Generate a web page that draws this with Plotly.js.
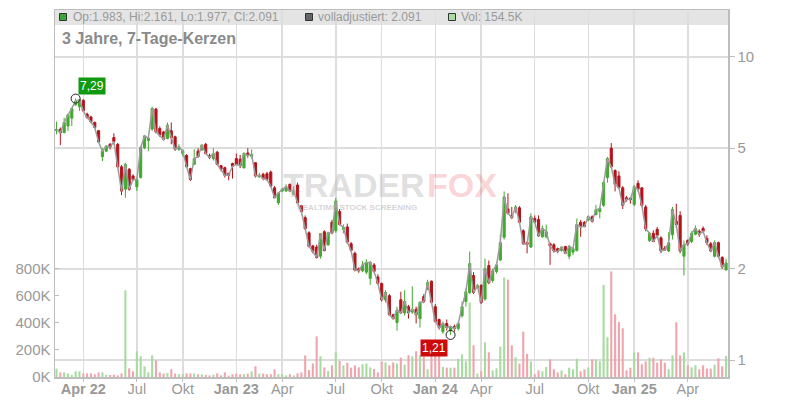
<!DOCTYPE html>
<html><head><meta charset="utf-8">
<script src="https://cdn.plot.ly/plotly-3.0.1.min.js"></script>
<style>html,body{margin:0;padding:0;background:#fff}#chart{width:800px;height:400px}</style>
</head><body><div id="chart"></div>
<script>
const dates = [
'2022-02-07','2022-02-14','2022-02-21','2022-02-28','2022-03-07','2022-03-14','2022-03-21','2022-03-28','2022-04-04','2022-04-11',
'2022-04-18','2022-04-25','2022-05-02','2022-05-09','2022-05-16','2022-05-23','2022-05-30','2022-06-06','2022-06-13','2022-06-20',
'2022-06-27','2022-07-04','2022-07-11','2022-07-18','2022-07-25','2022-08-01','2022-08-08','2022-08-15','2022-08-22','2022-08-29',
'2022-09-05','2022-09-12','2022-09-19','2022-09-26','2022-10-03','2022-10-10','2022-10-17','2022-10-24','2022-10-31','2022-11-07',
'2022-11-14','2022-11-21','2022-11-28','2022-12-05','2022-12-12','2022-12-19','2022-12-26',
'2023-01-02','2023-01-09','2023-01-16','2023-01-23','2023-01-30','2023-02-06','2023-02-13','2023-02-20','2023-02-27','2023-03-06',
'2023-03-13','2023-03-20','2023-03-27','2023-04-03','2023-04-10','2023-04-17','2023-04-24','2023-05-01','2023-05-08','2023-05-15',
'2023-05-22','2023-05-29','2023-06-05','2023-06-12','2023-06-19','2023-06-26','2023-07-03','2023-07-10','2023-07-17','2023-07-24',
'2023-07-31','2023-08-07','2023-08-14','2023-08-21','2023-08-28','2023-09-04','2023-09-11','2023-09-18','2023-09-25','2023-10-02',
'2023-10-09','2023-10-16','2023-10-23','2023-10-30','2023-11-06','2023-11-13','2023-11-20','2023-11-27','2023-12-04','2023-12-11',
'2023-12-18','2023-12-25',
'2024-01-01','2024-01-08','2024-01-15','2024-01-22','2024-01-29','2024-02-05','2024-02-12','2024-02-19','2024-02-26','2024-03-04',
'2024-03-11','2024-03-18','2024-03-25','2024-04-01','2024-04-08','2024-04-15','2024-04-22','2024-04-29','2024-05-06','2024-05-13',
'2024-05-20','2024-05-27','2024-06-03','2024-06-10','2024-06-17','2024-06-24','2024-07-01','2024-07-08','2024-07-15','2024-07-22',
'2024-07-29','2024-08-05','2024-08-12','2024-08-19','2024-08-26','2024-09-02','2024-09-09','2024-09-16','2024-09-23','2024-09-30',
'2024-10-07','2024-10-14','2024-10-21','2024-10-28','2024-11-04','2024-11-11','2024-11-18','2024-11-25','2024-12-02','2024-12-09',
'2024-12-16','2024-12-23','2024-12-30',
'2025-01-06','2025-01-13','2025-01-20','2025-01-27','2025-02-03','2025-02-10','2025-02-17','2025-02-24','2025-03-03','2025-03-10',
'2025-03-17','2025-03-24','2025-03-31','2025-04-07','2025-04-14','2025-04-21','2025-04-28','2025-05-05','2025-05-12','2025-05-19',
'2025-05-26','2025-06-02','2025-06-09','2025-06-16'];

const open = [
5.72,5.77,5.63,5.92,6.28,6.95,6.85,7.20,6.48,6.34,
6.08,5.71,4.69,4.89,5.15,5.42,5.15,4.34,3.66,4.26,
4.05,3.73,4.00,5.02,5.30,5.78,6.73,5.81,5.66,5.38,
5.71,5.45,4.96,4.80,4.73,4.28,4.42,4.89,4.94,5.15,
4.73,4.62,4.85,4.38,4.31,4.13,4.45,4.62,4.60,4.31,
4.82,4.70,4.48,4.02,4.10,4.12,4.17,3.70,3.30,3.61,
3.61,3.80,3.52,3.78,3.23,2.95,2.63,2.38,2.36,2.20,
2.65,2.40,2.85,2.67,3.09,2.70,2.75,2.42,2.25,2.00,
1.97,1.95,1.86,2.06,1.88,1.79,1.58,1.63,1.41,1.33,
1.58,1.43,1.50,1.44,1.47,1.37,1.62,1.71,1.82,1.50,
1.36,1.24,1.32,1.25,1.29,1.27,1.40,1.56,1.67,1.90,
1.73,1.76,1.59,2.05,1.83,1.96,2.14,2.54,3.15,3.00,
3.12,3.18,2.67,2.44,2.36,2.93,2.91,2.55,2.55,2.42,
2.40,2.33,2.30,2.37,2.20,2.27,2.30,2.85,2.85,2.90,
2.97,3.02,3.09,3.24,4.00,5.00,4.22,4.05,3.70,3.43,
3.42,3.26,3.83,3.70,3.20,2.48,2.62,2.70,2.53,2.34,
2.29,2.59,2.87,3.00,2.20,2.48,2.46,2.60,2.66,2.72,
2.52,2.42,2.20,2.44,2.18,1.983];

const high = [
6.12,5.85,6.30,6.50,6.80,7.29,7.27,7.25,6.55,6.40,
6.12,5.75,5.00,5.12,5.20,5.60,5.20,4.40,4.48,4.30,
4.10,4.00,5.08,5.52,5.45,6.85,6.80,5.90,5.70,6.08,
6.08,5.50,5.15,4.95,4.78,4.31,4.96,5.00,5.15,5.20,
4.80,5.00,4.90,4.40,4.35,4.15,4.48,4.80,4.75,4.85,
5.00,4.96,4.50,4.15,4.15,4.18,4.22,3.75,3.58,3.70,
3.80,3.82,3.75,3.85,3.25,3.00,2.66,2.40,2.40,2.62,
2.68,2.65,2.90,3.43,3.15,2.80,2.82,2.45,2.28,2.02,
2.12,2.15,2.12,2.09,1.92,1.80,1.70,1.65,1.42,1.50,
1.68,1.70,1.52,1.75,1.50,1.56,1.65,1.84,1.83,1.53,
1.37,1.34,1.36,1.30,1.31,1.33,1.56,1.72,2.28,1.95,
1.78,1.78,2.16,2.13,2.00,2.10,2.60,3.60,3.55,3.20,
3.25,3.22,2.70,2.46,3.05,3.00,3.00,2.78,2.80,2.44,
2.43,2.35,2.38,2.38,2.40,2.35,2.93,2.90,2.87,3.00,
3.00,3.25,3.20,3.90,4.68,5.20,4.26,4.20,3.75,3.48,
3.44,3.78,3.92,3.72,3.25,2.65,2.68,2.75,2.56,2.38,
2.64,3.20,3.28,3.10,2.48,2.50,2.66,2.78,2.70,2.76,
2.58,2.45,2.48,2.46,2.20,2.161];

const low = [
5.56,5.12,5.60,5.70,5.92,6.90,6.64,6.60,6.25,6.05,
5.80,5.20,4.53,4.85,4.95,5.15,4.30,3.50,3.43,3.62,
3.90,3.61,3.97,4.96,4.89,5.70,5.60,5.45,5.30,5.35,
5.15,4.90,4.90,4.70,4.30,3.90,4.40,4.65,4.90,4.78,
4.60,4.55,4.40,4.20,4.00,3.92,3.97,4.40,4.30,4.28,
4.65,4.62,4.00,4.00,3.92,3.90,3.72,3.42,3.25,3.58,
3.60,3.58,3.50,3.28,3.05,2.70,2.35,2.25,2.16,2.16,
2.28,2.38,2.60,2.63,2.78,2.62,2.42,2.28,1.96,1.94,
1.95,1.92,1.77,1.94,1.77,1.56,1.55,1.40,1.36,1.25,
1.42,1.40,1.37,1.42,1.32,1.28,1.54,1.70,1.54,1.33,
1.26,1.22,1.25,1.21,1.24,1.25,1.38,1.50,1.65,1.65,
1.72,1.53,1.57,1.78,1.80,1.93,2.12,2.50,3.02,2.92,
3.05,2.83,2.40,2.25,2.34,2.83,2.55,2.53,2.52,2.06,
2.26,2.25,2.28,2.24,2.15,2.22,2.28,2.55,2.74,2.87,
2.84,3.00,2.93,3.20,3.85,4.30,3.60,3.68,3.15,3.33,
3.28,3.22,3.60,3.20,2.66,2.45,2.45,2.55,2.25,2.29,
2.27,2.50,2.73,2.25,1.90,2.38,2.43,2.58,2.55,2.62,
2.40,2.27,2.18,2.17,2.00,1.977];

const close = [
5.77,5.62,6.08,6.44,6.76,7.15,7.22,6.64,6.31,6.11,
5.85,5.24,4.89,5.08,5.04,5.26,4.34,3.61,4.42,3.66,
3.94,3.94,5.02,5.49,5.40,6.76,5.66,5.52,5.35,5.96,
5.42,4.96,5.05,4.90,4.34,3.94,4.62,4.69,5.12,4.80,
4.66,4.80,4.42,4.26,4.07,4.07,4.36,4.42,4.38,4.80,
4.73,4.77,4.05,4.07,3.97,3.94,3.75,3.43,3.56,3.66,
3.73,3.61,3.63,3.30,3.09,2.71,2.37,2.28,2.18,2.61,
2.30,2.63,2.63,3.35,2.80,2.74,2.45,2.30,1.98,1.97,
2.06,2.10,2.10,1.96,1.79,1.58,1.67,1.41,1.37,1.46,
1.43,1.56,1.43,1.47,1.41,1.55,1.56,1.80,1.55,1.34,
1.28,1.32,1.28,1.29,1.27,1.32,1.50,1.68,2.08,1.67,
1.76,1.55,2.00,1.80,1.97,2.06,2.44,3.45,3.05,2.95,
3.20,2.85,2.42,2.41,2.97,2.85,2.57,2.72,2.65,2.38,
2.29,2.28,2.36,2.25,2.37,2.33,2.80,2.75,2.76,2.97,
2.87,3.13,3.16,3.85,4.62,4.34,3.80,3.70,3.24,3.39,
3.38,3.73,3.66,3.24,2.71,2.62,2.46,2.58,2.29,2.31,
2.44,3.14,2.80,2.29,2.40,2.42,2.62,2.72,2.60,2.66,
2.44,2.29,2.44,2.20,2.03,2.091];

// volume in thousands of shares
const volumeK = [
62,34,34,27,15,42,42,27,27,27,
20,34,34,17,15,17,12,27,640,64,
42,190,153,79,34,160,123,34,25,30,
57,25,20,22,27,27,27,20,20,15,
12,17,27,12,34,10,20,25,20,20,
25,42,79,25,25,20,20,57,20,20,
12,20,12,27,34,160,52,100,300,153,
71,44,86,182,118,86,106,69,86,71,
94,100,71,59,34,116,108,86,108,100,
143,91,160,153,190,160,150,57,200,170,
190,75,69,69,69,135,167,116,550,234,
25,42,256,182,49,64,224,734,719,234,
145,99,335,170,116,20,49,42,74,130,
57,34,49,20,69,57,135,42,57,71,
130,130,116,680,293,780,463,406,360,49,
69,182,182,94,116,143,143,106,130,106,
57,160,404,160,182,86,71,86,57,86,
62,62,91,138,79,154.5];

const tickDates = ['2022-03-28','2022-07-04','2022-09-26','2023-01-02','2023-03-27','2023-07-03','2023-09-25',
                   '2024-01-01','2024-03-25','2024-07-01','2024-10-07','2024-12-30','2025-04-07'];
const tickLabels = ['<b>Apr 22</b>','Jul','Okt','<b>Jan 23</b>','Apr','Jul','Okt','<b>Jan 24</b>','Apr','Jul','Okt','<b>Jan 25</b>','Apr'];
const volTicks = [0,200,400,600,800];
const volTickLabels = ['0K','200K','400K','600K','800K'];
const priceTicks = [1,2,5,10];
const priceTickLabels = ['1','2','5','10'];
const chartTitle = '3 Jahre, 7-Tage-Kerzen';
const adjustedClose = 2.091;
const watermark = ['TRADER','FOX','REALTIME STOCK SCREENING'];

// ---- styling / layout ----
const UP = '#42a830', DOWN = '#b2141c', VUP = '#a8dba0', VDOWN = '#f0a5ae';
const W = 800, H = 400, ML = 55, MR = 72, MT = 10, MB = 23;
const PW = W - ML - MR, PH = H - MT - MB;
const px = v => (v - ML) / PW;
const py = v => (H - MB - v) / PH;
const n = close.length;
const volColors = close.map((c, i) => c >= open[i] ? VUP : VDOWN);

let iMax = 0, iMin = 0;
for (let i = 0; i < n; i++) { if (high[i] > high[iMax]) iMax = i; if (low[i] < low[iMin]) iMin = i; }
const fmtDE = v => v.toFixed(2).replace('.', ',');

const traces = [
  { type:'bar', x:dates, y:volumeK, yaxis:'y', marker:{color:volColors, line:{width:0}}, hoverinfo:'skip' },
  { type:'scatter', mode:'lines', x:dates, y:close, yaxis:'y2', line:{color:'#9c9c9c', width:1.5}, hoverinfo:'skip' },
  { type:'candlestick', x:dates, open:open, high:high, low:low, close:close, yaxis:'y2', whiskerwidth:0,
    increasing:{line:{color:UP, width:1}, fillcolor:UP},
    decreasing:{line:{color:DOWN, width:1}, fillcolor:DOWN}, hoverinfo:'skip' },
  { type:'scatter', mode:'markers', x:[dates[iMax], dates[iMin]], y:[high[iMax], low[iMin]], yaxis:'y2',
    marker:{symbol:'circle-open', size:9, color:'#222', line:{width:1, color:'#222'}}, hoverinfo:'skip' }
];

const last = n - 1;
const hdrY = py(17.3);
const layout = {
  width:W, height:H, margin:{l:ML, r:MR, t:MT, b:MB, pad:0},
  paper_bgcolor:'#ffffff', plot_bgcolor:'#ffffff', showlegend:false, bargap:0.45, boxgap:0.2,
  font:{family:'Liberation Sans, Arial, sans-serif', color:'#999'},
  xaxis:{type:'date', range:['2022-02-04 06:00','2025-06-19 14:00'], rangeslider:{visible:false},
    tickmode:'array', tickvals:tickDates, ticktext:tickLabels, tickfont:{size:14.5, color:'#999'},
    ticks:'outside', ticklen:3, tickcolor:'#c0c0c0', ticklabelstandoff:-5, showgrid:true, gridcolor:'#dddddd', gridwidth:1.5,
    showline:true, linecolor:'#bdbdbd', linewidth:1.5, mirror:true, zeroline:false},
  yaxis:{range:[0,2710], side:'left', tickmode:'array', tickvals:volTicks, ticktext:volTickLabels,
    tickfont:{size:15, color:'#999'}, ticks:'inside', ticklen:4, tickcolor:'#bdbdbd', showgrid:false,
    zeroline:false, showline:true, linecolor:'#bdbdbd', linewidth:1.5},
  yaxis2:{type:'log', overlaying:'y', side:'right', range:[-0.056,1.155], tickmode:'array',
    tickvals:priceTicks, ticktext:priceTickLabels, tickfont:{size:15, color:'#999'}, ticks:'outside',
    ticklen:5, tickcolor:'#bdbdbd', showgrid:true, gridcolor:'#dddddd', gridwidth:1.5, zeroline:false,
    showline:true, linecolor:'#bdbdbd', linewidth:1.5},
  shapes:[
    {type:'rect', xref:'paper', yref:'paper', x0:0, x1:1, y0:py(25), y1:1, fillcolor:'#e4e4e4', line:{width:0}, layer:'below'},
    {type:'rect', xref:'paper', yref:'paper', x0:px(59.5), x1:px(66.5), y0:py(20.5), y1:py(13.5), fillcolor:'#3fa43a', line:{color:'#333', width:1}},
    {type:'rect', xref:'paper', yref:'paper', x0:px(305.5), x1:px(312.5), y0:py(20.5), y1:py(13.5), fillcolor:'#666666', line:{color:'#333', width:1}},
    {type:'rect', xref:'paper', yref:'paper', x0:px(448.5), x1:px(455.5), y0:py(20.5), y1:py(13.5), fillcolor:VUP, line:{color:'#333', width:1}}
  ],
  annotations:[
    {xref:'paper', yref:'paper', x:px(70.5), y:hdrY, xanchor:'left', yanchor:'middle', showarrow:false,
     text:`Op:${open[last].toFixed(3)}, Hi:${high[last].toFixed(3)}, Lo:${low[last].toFixed(3)}, Cl:${close[last].toFixed(3)}`,
     font:{size:12, color:'#9a9a9a'}},
    {xref:'paper', yref:'paper', x:px(316), y:hdrY, xanchor:'left', yanchor:'middle', showarrow:false,
     text:`volladjustiert: ${adjustedClose.toFixed(3)}`, font:{size:12, color:'#9a9a9a'}},
    {xref:'paper', yref:'paper', x:px(459), y:hdrY, xanchor:'left', yanchor:'middle', showarrow:false,
     text:`Vol: ${volumeK[last].toFixed(1)}K`, font:{size:12, color:'#9a9a9a'}},
    {xref:'paper', yref:'paper', x:px(60), y:py(38.5), xanchor:'left', yanchor:'middle', showarrow:false,
     text:'<b>' + chartTitle + '</b>', font:{size:16, color:'#8a8a8a'}},
    {xref:'paper', yref:'paper', x:px(427), y:py(184.5), xanchor:'right', yanchor:'middle', showarrow:false,
     height:36, text:'<b>' + watermark[0] + '</b>', font:{size:34, color:'rgba(185,185,185,0.45)'}},
    {xref:'paper', yref:'paper', x:px(425), y:py(184.5), xanchor:'left', yanchor:'middle', showarrow:false,
     height:36, text:'<b>' + watermark[1] + '</b>', font:{size:34, color:'rgba(240,110,120,0.3)'}},
    {xref:'paper', yref:'paper', x:px(356.5), y:py(207), xanchor:'center', yanchor:'middle', showarrow:false,
     text:'<b>' + watermark[2] + '</b>', font:{size:8, color:'rgba(170,170,170,0.5)'}},
    {xref:'x', yref:'y2', x:dates[iMax], y:Math.log10(high[iMax]), xanchor:'left', yanchor:'bottom', xshift:2, yshift:4,
     showarrow:false, text:fmtDE(high[iMax]), bgcolor:'#0f9a0f', borderpad:1, font:{size:12, color:'#fff'}},
    {xref:'x', yref:'y2', x:dates[iMin], y:Math.log10(low[iMin]), xanchor:'right', yanchor:'top', xshift:-3, yshift:-4,
     showarrow:false, text:fmtDE(low[iMin]), bgcolor:'#cc0a0a', borderpad:1, font:{size:12, color:'#fff'}}
  ]
};

Plotly.newPlot('chart', traces, layout, {staticPlot:true, displayModeBar:false});
</script>
</body></html>
